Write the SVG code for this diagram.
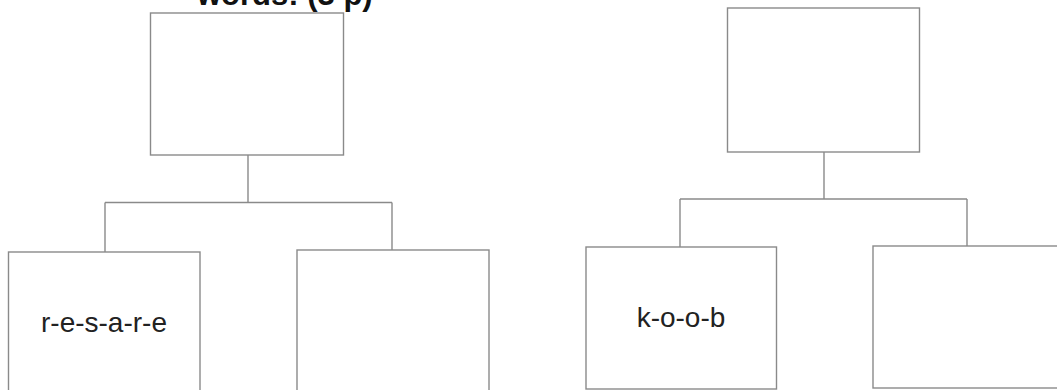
<svg xmlns="http://www.w3.org/2000/svg" width="1057" height="390" viewBox="0 0 1057 390">
<style>
.box{fill:#fff;stroke:#8a8a8a;stroke-width:1.4}
.ln{fill:none;stroke:#8a8a8a;stroke-width:1.4}
.lbl{font-family:"Liberation Sans",Arial,sans-serif;font-size:28px;fill:#222;text-anchor:middle}
.title{font-family:"Liberation Sans",Arial,sans-serif;font-size:31px;font-weight:bold;fill:#111}
</style>
<rect width="1057" height="390" fill="#fff"/>
<text class="title" x="197" y="5">words: (3 p)</text>
<g id="connectors">
<path class="ln" d="M248 155 V202.5 M105 202.5 H392 M105 202.5 V252 M392 202.5 V250"/>
<path class="ln" d="M824 152 V199 M680 199 H967 M680 199 V247 M967 199 V246"/>
</g>
<g id="tl-root"><rect class="box" x="150.5" y="13" width="193" height="142"/></g>
<g id="tl-left"><rect class="box" x="8.5" y="252" width="191.5" height="145"/><text class="lbl" x="104" y="332">r-e-s-a-r-e</text></g>
<g id="tl-right"><rect class="box" x="297" y="250" width="192" height="147"/></g>
<g id="tr-root"><rect class="box" x="727.5" y="8" width="192" height="144"/></g>
<g id="tr-left"><rect class="box" x="586" y="247" width="190.5" height="142"/><text class="lbl" x="681" y="327">k-o-o-b</text></g>
<g id="tr-right"><rect class="box" x="873" y="246" width="200" height="142"/></g>
</svg>
